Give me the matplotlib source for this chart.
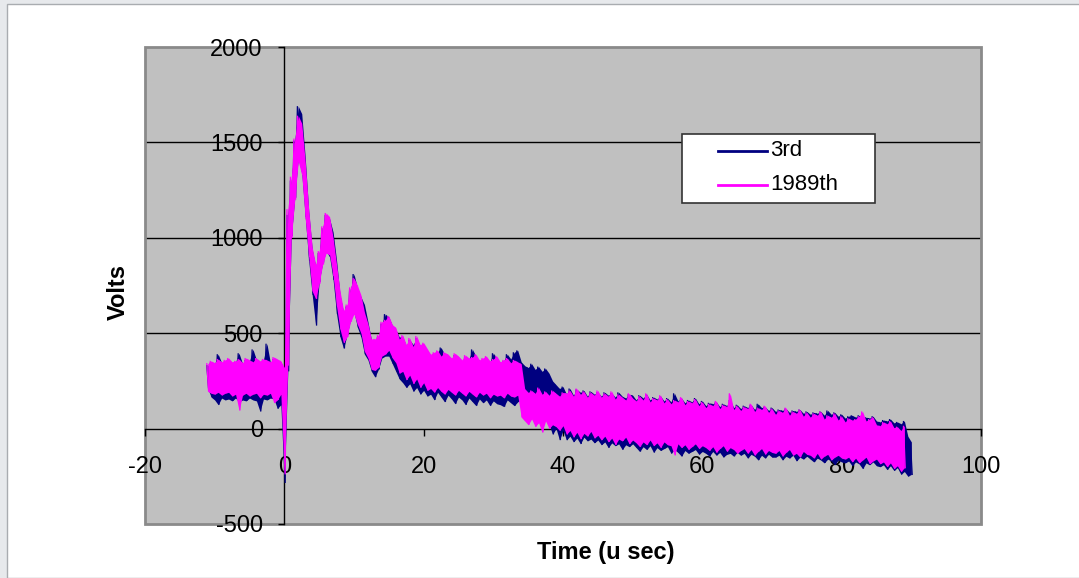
import numpy as np
import matplotlib
matplotlib.use("Agg")
import matplotlib.pyplot as plt
from matplotlib.patches import Rectangle
from matplotlib.lines import Line2D

plt.rcParams['font.family'] = ['Liberation Sans', 'DejaVu Sans']
plt.rcParams['axes.unicode_minus'] = False

# ---- data: per-bin (0.5 us) min / max envelope of each scope trace ----
T_START = -11.0   # us, first bin centre
T_STEP = 0.5      # us, bin width

series_names = ['3rd', '1989th']
series_colors = ['#000080', '#ff00ff']

blue_max = [
    330, 345, 340, 390, 345, 350, 360, 345, 350, 395, 340, 360, 355, 415, 360, 350, 360, 445, 345, 365, 355, 350,
    310, 1120, 1300, 1510, 1690, 1650, 1420, 1140, 940, 850, 920, 1050, 1120, 1100, 1030, 880, 700, 610, 640, 730,
    810, 735, 690, 650, 560, 465, 460, 480, 550, 600, 585, 540, 520, 480, 480, 435, 465, 440, 475, 430, 440,
    400, 380, 390, 400, 425, 390, 380, 365, 385, 375, 355, 375, 365, 415, 380, 355, 360, 370, 350, 395,
    370, 345, 355, 390, 365, 400, 410, 350,
    330, 320, 340, 310, 325, 300, 315, 290, 250, 230, 210, 220,
    180, 210, 175, 205, 190, 200, 170, 195, 180, 190,
    170, 190, 175, 185, 165, 190, 170, 160, 180, 175,
    150, 175, 160, 180, 150, 165, 155, 170, 145, 160,
    140, 185, 145, 160, 135, 150, 140, 160, 130, 145,
    120, 135, 130, 140, 115, 130, 120, 150, 110, 125,
    105, 120, 110, 125, 100, 130, 110, 115, 95, 110,
    90, 100, 95, 105, 85, 95, 90, 100, 80, 90,
    75, 85, 80, 90, 70, 95, 75, 85, 65, 75,
    55, 65, 70, 60, 70, 45, 60, 55, 65, 40,
    35, 45, 40, 50, 30, 35, 25, 40, -40, -70,
]
blue_min = [
    210, 165, 150, 125, 160, 150, 155, 145, 160, 140, 150, 145, 160, 150, 145, 90, 155, 150, 160, 155, 105, 125,
    -285, 300, 1010, 1210, 1420, 1340, 1110, 880, 700, 540, 770, 870, 930, 900, 780, 600, 480, 420, 490, 570,
    610, 530, 480, 390, 360, 300, 270, 310, 370, 380, 380, 340, 300, 260, 240, 215, 235, 195, 215, 180, 200,
    170, 180, 150, 190, 165, 140, 175, 155, 130, 165, 150, 125, 160, 140, 120, 155, 135, 150, 120, 145,
    130, 125, 115, 150, 135, 120, 140, 160,
    150, 170, 160, 140, 150, 120, 60, 20, -30, 0, -60, -10,
    -60, -40, -70, -50, -80, -45, -65, -55, -75, -60,
    -85, -70, -100, -75, -90, -80, -110, -85, -95, -80,
    -100, -120, -95, -110, -90, -125, -100, -115, -105, -95,
    -130, -110, -125, -145, -115, -130, -120, -110, -135, -120,
    -130, -145, -120, -140, -125, -150, -135, -130, -145, -125,
    -140, -130, -155, -135, -145, -165, -140, -155, -135, -150,
    -150, -140, -165, -145, -155, -140, -170, -150, -160, -145,
    -160, -175, -155, -165, -180, -160, -170, -190, -165, -175,
    -180, -170, -195, -175, -185, -210, -180, -190, -175, -195,
    -200, -190, -215, -195, -220, -205, -240, -225, -250, -240,
]
pink_max = [
    340, 355, 345, 365, 350, 360, 370, 350, 355, 365, 345, 370, 360, 350, 370, 355, 365, 360, 350, 375, 365, 355,
    320, 1150, 1320, 1520, 1640, 1600, 1400, 1150, 950, 860, 930, 1060, 1130, 1110, 1000, 860, 720, 620, 650, 740,
    790, 750, 700, 610, 550, 470, 470, 490, 560, 570, 590, 545, 530, 470, 490, 440, 475, 430, 485, 440, 450,
    420, 390, 400, 410, 380, 400, 390, 370, 395, 380, 360, 385, 370, 375, 390, 360, 370, 380, 355, 365,
    380, 350, 360, 370, 345, 360, 350, 340,
    210, 190, 200, 185, 215, 180, 195, 175, 200, 185, 170, 190,
    185, 200, 170, 210, 180, 195, 165, 190, 175, 200,
    165, 185, 170, 195, 155, 180, 165, 150, 185, 160,
    145, 170, 150, 185, 140, 160, 150, 175, 135, 155,
    130, 150, 140, 165, 125, 145, 135, 155, 120, 140,
    110, 130, 120, 145, 105, 125, 115, 185, 100, 120,
    95, 115, 105, 130, 90, 110, 100, 120, 85, 105,
    75, 95, 85, 110, 70, 90, 80, 100, 65, 85,
    60, 80, 70, 90, 50, 70, 60, 80, 45, 65,
    35, 55, 45, 50, 65, 90, 40, 50, 60, 20,
    15, 35, 25, 40, 5, 10, -10, 15,
]
pink_min = [
    195, 185, 180, 190, 175, 185, 190, 170, 180, 95, 175, 185, 170, 180, 185, 160, 180, 175, 185, 135, 150, 180,
    -240, 330, 1000, 1200, 1400, 1330, 1100, 900, 720, 680, 760, 860, 920, 910, 800, 640, 520, 450, 480, 560,
    600, 545, 500, 405, 370, 310, 305, 320, 380, 390, 410, 370, 345, 290, 300, 255, 280, 235, 260, 215, 240,
    200, 210, 190, 215, 195, 180, 205, 190, 175, 200, 185, 170, 195, 180, 165, 190, 175, 185, 160, 180,
    170, 175, 160, 185, 170, 165, 175, 60,
    40, 20, 50, 10, 30, -20, 40, 0, 20, 10, -10, 15,
    -30, -10, -45, -20, -55, -25, -40, -15, -50, -35,
    -60, -40, -70, -50, -85, -55, -65, -45, -80, -60,
    -75, -95, -70, -85, -60, -90, -75, -100, -70, -85,
    -90, -140, -80, -100, -85, -110, -95, -80, -105, -90,
    -100, -115, -95, -125, -105, -90, -120, -100, -110, -130,
    -115, -105, -130, -110, -140, -120, -105, -135, -115, -125,
    -130, -115, -145, -125, -110, -140, -130, -150, -120, -135,
    -140, -155, -130, -160, -145, -135, -165, -150, -140, -155,
    -160, -150, -175, -155, -180, -165, -150, -185, -170, -160,
    -185, -175, -200, -180, -210, -195, -225, -205,
]

x_ticks = [-20, 0, 20, 40, 60, 80, 100]
y_ticks = [-500, 0, 500, 1000, 1500, 2000]
grid_levels = [500, 1000, 1500]
x_label = 'Time (u sec)'
y_label = 'Volts'


def draw_trace(ax, vmax, vmin, color, z):
    """Scope trace shown as its per-bin min/max band plus a max/min zig-zag for the spiky edges."""
    t = T_START + T_STEP * np.arange(len(vmax))
    ax.fill_between(t, vmin, vmax, color=color, lw=0, zorder=z)
    x = np.column_stack([t - T_STEP / 4, t + T_STEP / 4]).ravel()
    y = np.column_stack([vmax, vmin]).ravel()
    ax.plot(x, y, color=color, lw=0.9, zorder=z, solid_joinstyle='miter')


# ---- figure ----
W, H = 1079, 578
fig = plt.figure(figsize=(W / 100, H / 100), dpi=100)
fig.patch.set_facecolor('#e7e9ec')
fig.add_artist(Rectangle((7 / W, 0), 1.0, 1 - 4 / H, transform=fig.transFigure,
                         facecolor='white', edgecolor='#a9acb0', lw=1, zorder=-5))

ax = fig.add_axes([145 / W, 1 - 524 / H, (981 - 145) / W, (524 - 47) / H])
ax.set_facecolor('#c0c0c0')
ax.set_xlim(-20, 100)
ax.set_ylim(-500, 2000)

for side in ('top', 'right'):
    ax.spines[side].set_visible(False)
for side in ('left', 'bottom'):
    ax.spines[side].set_position(('data', 0))
    ax.spines[side].set_color('black')
    ax.spines[side].set_linewidth(1.0)

ax.set_xticks(x_ticks)
ax.set_yticks(y_ticks)
ax.tick_params(axis='x', direction='out', length=5, width=1, pad=15, labelsize=17, colors='black')
ax.tick_params(axis='y', direction='out', length=4.5, width=1, pad=11, labelsize=17, colors='black')
ax.set_axisbelow(True)
ax.grid(False)
for g in grid_levels:
    ax.axhline(g, color='black', lw=1, zorder=0.2)

# plot-area border (under the tick labels, as in the original)
ax.add_patch(Rectangle((0, 0), 1, 1, transform=ax.transAxes, fill=False,
                       edgecolor='#8a8a8a', lw=2, zorder=0.3, clip_on=False))

draw_trace(ax, blue_max, blue_min, series_colors[0], 3)
draw_trace(ax, pink_max, pink_min, series_colors[1], 4)

# axis titles
fig.text(606 / W, 1 - 553 / H, x_label, ha='center', va='center', fontsize=17, fontweight='bold')
fig.text(118 / W, 1 - 292 / H, y_label, ha='center', va='center', fontsize=17,
         fontweight='bold', rotation=90)

# legend box
fig.add_artist(Rectangle((682 / W, 1 - 203 / H), (875 - 682) / W, (203 - 134) / H,
                         transform=fig.transFigure, facecolor='white', edgecolor='#333333',
                         lw=1.2, zorder=10))
for i, (name, col) in enumerate(zip(series_names, series_colors)):
    yy = 1 - (151 + 34 * i) / H
    fig.add_artist(Line2D([718 / W, 767 / W], [yy, yy], transform=fig.transFigure,
                          color=col, lw=2, zorder=11))
    fig.text(770 / W, yy, name, ha='left', va='center', fontsize=16, zorder=11)

fig.savefig('out.png', dpi=100, facecolor=fig.get_facecolor())
